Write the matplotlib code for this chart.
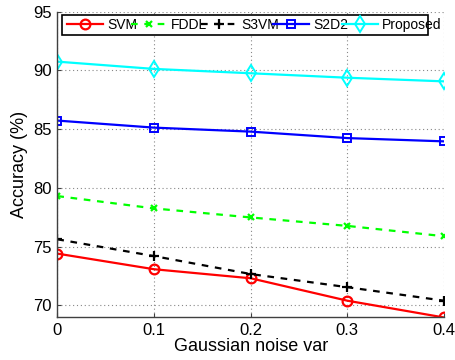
import matplotlib
matplotlib.use("Agg")
import matplotlib.pyplot as plt
from matplotlib.patches import Rectangle

plt.rcParams['font.family'] = ['Liberation Sans', 'DejaVu Sans']

x = [0, 0.1, 0.2, 0.3, 0.4]
svm = [74.4, 73.07, 72.3, 70.39, 68.96]
fddl = [79.3, 78.25, 77.48, 76.76, 75.88]
s3vm = [75.62, 74.19, 72.66, 71.54, 70.39]
s2d2 = [85.73, 85.13, 84.79, 84.24, 83.96]
proposed = [90.75, 90.13, 89.76, 89.38, 89.07]
labels = ['SVM', 'FDDL', 'S3VM', 'S2D2', 'Proposed']
xticks = [0, 0.1, 0.2, 0.3, 0.4]
xticklabels = ['0', '0.1', '0.2', '0.3', '0.4']
yticks = [70, 75, 80, 85, 90, 95]

fig = plt.figure(figsize=(4.56, 3.6), dpi=100)
ax = fig.add_axes([0.1257, 0.1194, 0.848, 0.848])

ax.plot(x, svm, color='red', lw=1.6, marker='o', ms=7, mfc='none', mew=1.6, label=labels[0])
ax.plot(x, fddl, color='#00ff00', lw=1.6, ls=(0, (3, 3)), marker='x', ms=5, mew=1.6, label=labels[1])
ax.plot(x, s3vm, color='black', lw=1.6, ls=(0, (3, 3)), marker='+', ms=7, mew=1.6, label=labels[2])
ax.plot(x, s2d2, color='blue', lw=1.6, marker='s', ms=5.5, mfc='none', mew=1.4, label=labels[3])
ax.plot(x, proposed, color='cyan', lw=1.6, marker='d', ms=8, mfc='none', mew=1.4, label=labels[4])

ax.set_xlim(0, 0.4)
ax.set_ylim(69, 95)
ax.set_xticks(xticks)
ax.set_xticklabels(xticklabels)
ax.set_yticks(yticks)
ax.tick_params(labelsize=12, direction='in', length=3, color='#404040', pad=4)
ax.grid(True, ls=(0, (1, 2.5)), color='#888888', lw=0.8)
ax.spines['top'].set_visible(False)
ax.spines['right'].set_visible(False)
for s in ('left', 'bottom'):
    ax.spines[s].set_color('#404040')
    ax.spines[s].set_linewidth(1.0)
ax.set_xlabel('Gaussian noise var', fontsize=13, labelpad=0)
ax.set_ylabel('Accuracy (%)', fontsize=13, labelpad=4)

leg = ax.legend(loc='center left', bbox_to_anchor=(0.024, 0.957), ncol=5, fontsize=10,
                frameon=False, handlelength=2.6, columnspacing=-0.45, handletextpad=0.3,
                borderpad=0.0, borderaxespad=0.0)
ax.add_patch(Rectangle((0.0114, 0.9246), 0.9472, 0.0654, transform=ax.transAxes,
                       facecolor='white', edgecolor='black', lw=1.2, zorder=4.5,
                       clip_on=False))
leg.set_zorder(5)

fig.savefig('out.png', dpi=100)
